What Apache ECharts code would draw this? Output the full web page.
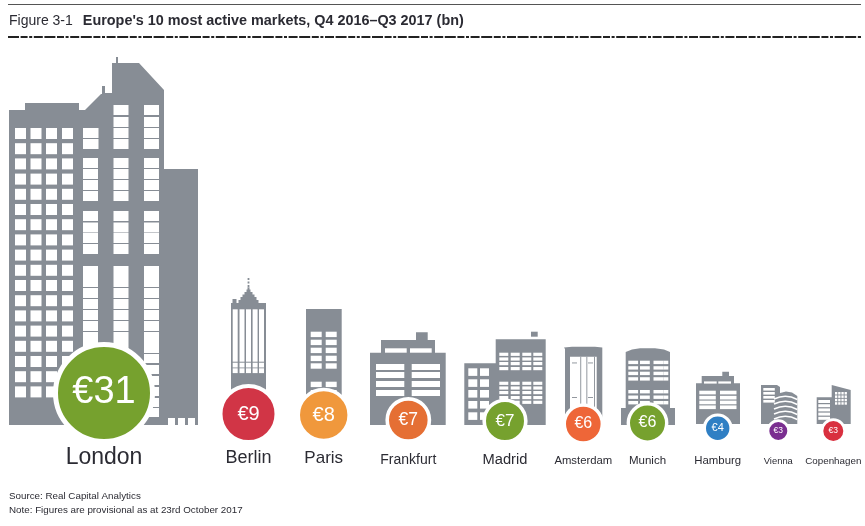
<!DOCTYPE html>
<html><head><meta charset="utf-8">
<script src="https://cdn.jsdelivr.net/npm/echarts@6/dist/echarts.min.js"></script>
<style>html,body{margin:0;padding:0;background:#fff}#c{width:865px;height:526px}</style>
</head><body><div id="c"></div>
<script>
// ---- data ----
const cities = ['London','Berlin','Paris','Frankfurt','Madrid','Amsterdam','Munich','Hamburg','Vienna','Copenhagen'];
const values = [31,9,8,7,7,6,6,4,3,3];
const tickPrefix = '€';
// ---- layout and style (page pixels) ----
const centresX = [104,248.5,323.7,408.3,505,583.3,647.5,717.7,778.3,833.3];
const centresY = [393,414,415,420,421,424,423,428.3,431,431];
const radii = [46,26,23.7,19.3,19,17.3,17.5,11.7,9,10];
const rings = [5,4,3.6,3.6,3.6,3.4,3.4,3.2,2.8,2.8];
const colours = ['#76a12e','#d13546','#f0983c','#e56f34','#76a12e','#ee6638','#76a12e','#2f7fc4','#7a2e90','#d9303f'];
const bubbleFont = [38,20,20,17.5,17,16,16,11,8.5,8.5];
const nameFont = [23,18,17,14,14.7,11.3,11.5,11.4,9.4,9.8];
const nameY = [457.5,458.5,458.5,460,460,461,461,461,461.5,461.5];
const GREY = '#878d95';

// pictogram helpers
function grid(xs, ys, w, h){const o=[];xs.forEach(x=>ys.forEach(y=>o.push([x,y,w,h])));return o;}
function seq(start, step, n){const o=[];for(let i=0;i<n;i++)o.push(start+step*i);return o;}
const pictos = [
 { // London
  poly:[[[9,425],[9,110],[25,110],[25,103],[79,103],[79,110],[85,110],[101,94],[102,94],[102,86],[105,86],[105,93],[112,93],[112,63],[116,63],[116,57],[118,57],[118,63],[139,63],[164,90],[164,169],[198,169],[198,425]]],
  win:[].concat(
    grid([15,30.5,46,62],seq(128,15.2,18),11,11),
    grid([83],[128,139],15.5,10),
    grid([113.5,144],[105,117,128,139],15,10),
    grid([83,113.5,144],[158,169,180,191],15,10),
    grid([83,113.5,144],[211,222.5,233,244],15,10),
    grid([83,113.5,144],[266],15,21),
    grid([83,113.5,144],[288,299,310,321],15,10),
    grid([83,113.5,144],[332],15,21),
    grid([83,113.5,144],[354,365,376,387,398,408],15,9),
    grid([168,178,188],[418],7,7))
 },
 { // Berlin
  poly:[[[231,400],[231,303],[238.5,303],[238.5,300],[240.5,300],[240.5,297],[242.5,297],[242.5,294.5],[244.5,294.5],[244.5,292],[246.5,292],[246.5,289.5],[247.5,289.5],[247.5,287.5],[249.5,287.5],[249.5,289.5],[250.5,289.5],[250.5,292],[252.5,292],[252.5,294.5],[254.5,294.5],[254.5,297],[256.5,297],[256.5,300],[258.5,300],[258.5,303],[266,303],[266,400]],
        [[232.5,303],[232.5,299],[236.5,299],[236.5,303]],
        [[247.6,278],[249.4,278],[249.4,280],[247.6,280]],[[247.6,281.5],[249.4,281.5],[249.4,283.5],[247.6,283.5]],[[247.6,285],[249.4,285],[249.4,287.5],[247.6,287.5]]],
  win:[].concat(grid([232.7,239.5,246,252.6,259],[309.3],5,52.4),grid([232.7,239.5,246,252.6,259],[362.7,368.3],5,4.8))
 },
 { // Paris
  poly:[[[306,400],[306,309],[341.7,309],[341.7,400]]],
  win:grid([310.7,325.7],[331.7,339.7,347.7,355.7,363.3,381.7,390],11,5.4)
 },
 { // Frankfurt
  poly:[[[370,425],[370,352.7],[381,352.7],[381,340],[416,340],[416,332.3],[427.7,332.3],[427.7,340],[435,340],[435,352.7],[445.7,352.7],[445.7,425]]],
  win:[].concat(grid([385,410],[348.3],21.7,4.4),grid([376,411.7],[364,372,381,390],28.3,6))
 },
 { // Madrid
  poly:[[[464.3,425],[464.3,363.3],[495.7,363.3],[495.7,339.3],[545.7,339.3],[545.7,425]],[[531,331.7],[537.7,331.7],[537.7,336.7],[531,336.7]]],
  win:[].concat(grid([468.3,480],[368.3,379.3,390,401,412.3],9,7.6),
    grid([499.3,510.7,522.3,533.3],[352.7,357.4,362,367],9,3.2),
    grid([499.3,510.7,522.3,533.3],[381.7,386.4,391,396,400.7],9,3.2))
 },
 { // Amsterdam
  poly:[[[565,420],[565,349],[564,347.5],[572,346.8],[595,346.8],[602.3,347.5],[602.3,420]]],
  win:[[570,356.7,26.7,55]],
  ink:[[580.3,356.7,.9,55],[586.4,356.7,.9,55],[594,356.7,.9,55],[572,362.5,5,.9],[588,362.5,5,.9],[572,397,5,.9],[588,397,5,.9]]
 },
 { // Munich
  poly:[[[621,425],[621,408],[625.7,408],[625.7,352],[632,349.5],[640,348.3],[655,348.3],[664,349.5],[670,352],[670,408],[675,408],[675,425]]],
  win:[].concat(grid([628.3,640,653.5,663.3],[360.7,366.2,371.7,377.2],9.8,3.4),grid([628.3,640,653.5,663.3],[390,395.5,401],9.8,3.4)).map(r=>r[0]===663.3?[r[0],r[1],5,r[3]]:r)
 },
 { // Hamburg
  poly:[[[696,424],[696,383.3],[701.7,383.3],[701.7,376],[722.3,376],[722.3,371.7],[729,371.7],[729,376],[734,376],[734,383.3],[740,383.3],[740,424]]],
  win:[].concat(grid([704,718.3],[381.4],12.7,2.2),grid([699.3,720],[390.7,395.8,400.6,405.4],16.5,3.7))
 },
 { // Vienna
  poly:[[[761,424],[761,385],[777,385],[780,387],[780,393],[786,391.5],[792,392.5],[797.3,396],[797.3,424]]],
  win:grid([763.3],[388,392,396,400],11.5,2.6),
  curves:[[774,399,786,393.5,797.3,399.5],[774,404,786,398.5,797.3,404.5],[774,409,786,403.5,797.3,409.5],[774,414,786,408.5,797.3,414.5],[774,419,786,413.5,797.3,419.5]]
 },
 { // Copenhagen
  poly:[[[816.7,424],[816.7,397.3],[831.7,397.3],[831.7,385],[850.7,390],[850.7,424]]],
  win:[].concat(grid([818.3],[400,404.2,408.4,412.6,416.8],11.7,3),grid([835,838.2,841.4,844.6],[392,395.4,398.8,402.2],2.3,2.5))
 }
];

function renderBuilding(params, api){
  const p = pictos[params.dataIndex];
  const pt = a => api.coord(a);
  const kids = [];
  p.poly.forEach(g => kids.push({type:'polygon',shape:{points:g.map(pt)},style:{fill:GREY}}));
  (p.win||[]).forEach(r => { const q=pt([r[0],r[1]]); kids.push({type:'rect',shape:{x:q[0],y:q[1],width:r[2],height:r[3]},style:{fill:'#fff'}}); });
  (p.ink||[]).forEach(r => { const q=pt([r[0],r[1]]); kids.push({type:'rect',shape:{x:q[0],y:q[1],width:r[2],height:r[3]},style:{fill:GREY}}); });
  (p.curves||[]).forEach(c => { const a=pt([c[0],c[1]]),m=pt([c[2],c[3]]),b=pt([c[4],c[5]]);
    kids.push({type:'bezierCurve',shape:{x1:a[0],y1:a[1],cpx1:m[0],cpy1:m[1],x2:b[0],y2:b[1]},style:{stroke:'#fff',lineWidth:1.5,fill:null}}); });
  return {type:'group',children:kids};
}
function renderName(params, api){
  const q = api.coord([api.value(0),api.value(1)]);
  return {type:'text',x:q[0],y:q[1],style:{text:cities[params.dataIndex],fill:'#2b2b33',font:nameFont[params.dataIndex]+'px "Liberation Sans"',textAlign:'center',textVerticalAlign:'middle'}};
}

const chart = echarts.init(document.getElementById('c'),null,{renderer:'canvas'});
chart.setOption({
  animation:false,
  backgroundColor:'#fff',
  grid:{left:0,right:0,top:0,bottom:0},
  xAxis:{type:'value',min:0,max:865,show:false},
  yAxis:{type:'value',min:0,max:526,inverse:true,show:false},
  title:[
    {left:9,top:12,padding:0,text:'{a|Figure 3-1}  {b|Europe\'s 10 most active markets, Q4 2016–Q3 2017 (bn)}',
     textStyle:{fontWeight:'normal',rich:{a:{fontFamily:'Liberation Sans',fontSize:14,fontWeight:'normal',color:'#2b2b33'},b:{fontFamily:'Liberation Sans',fontSize:14.4,fontWeight:'bold',color:'#2b2b33'}}}},
    {left:9,top:491,padding:0,text:'Source: Real Capital Analytics',textStyle:{fontFamily:'Liberation Sans',fontSize:9.8,fontWeight:'normal',color:'#2b2b33'}},
    {left:9,top:505,padding:0,text:'Note: Figures are provisional as at 23rd October 2017',textStyle:{fontFamily:'Liberation Sans',fontSize:9.8,fontWeight:'normal',color:'#2b2b33'}}
  ],
  graphic:[
    {type:'line',shape:{x1:8,y1:4.5,x2:861,y2:4.5},style:{stroke:'#555',lineWidth:1.2}},
    {type:'line',shape:{x1:8,y1:37,x2:861,y2:37},style:{stroke:'#222',lineWidth:2.2,lineDash:[11,1.6,7,1.6,3,1.6,9,1.6]}}
  ],
  series:[
    {type:'custom',name:'buildings',z:1,clip:false,silent:true,renderItem:renderBuilding,
     data:cities.map((c,i)=>[centresX[i],centresY[i]])},
    {type:'scatter',name:'Investment (€bn)',z:3,silent:true,
     data:cities.map((c,i)=>({name:c,value:[centresX[i],centresY[i],values[i]],symbolSize:2*radii[i]+rings[i],
       itemStyle:{color:colours[i],borderColor:'#fff',borderWidth:rings[i],opacity:1},
       label:{show:true,position:'inside',formatter:tickPrefix+values[i],color:'#fff',fontFamily:'Liberation Sans',fontSize:bubbleFont[i]}}))},
    {type:'custom',name:'names',z:4,clip:false,silent:true,renderItem:renderName,
     data:cities.map((c,i)=>[centresX[i],nameY[i]])}
  ]
});
</script></body></html>
